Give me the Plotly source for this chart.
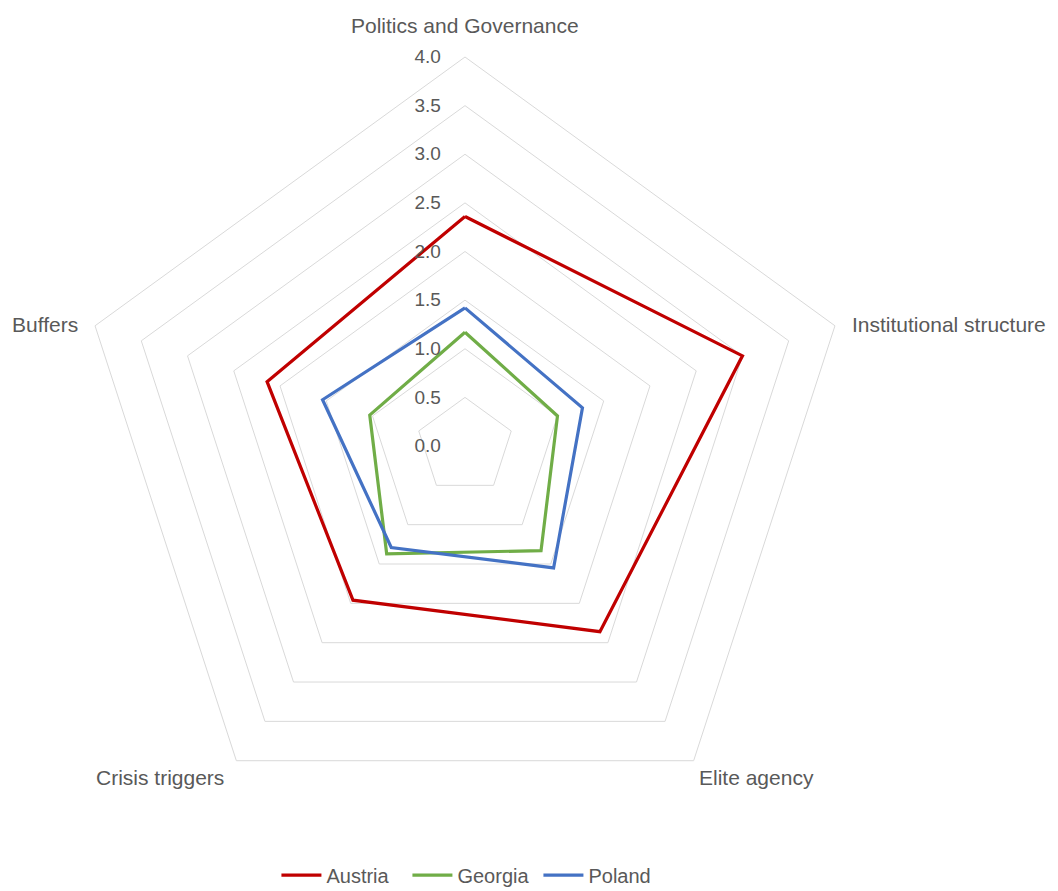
import plotly.graph_objects as go

categories = ["Politics and Governance", "Institutional structure", "Elite agency", "Crisis triggers", "Buffers"]
austria = [2.36, 3.0, 2.36, 1.96, 2.14]
georgia = [1.17, 1.0, 1.33, 1.37, 1.03]
poland = [1.42, 1.27, 1.55, 1.29, 1.54]
series = [("Austria", austria, "#C00000"), ("Georgia", georgia, "#70AD47"), ("Poland", poland, "#4472C4")]

W, H = 1058, 891
cx, cy, R = 465, 446, 389

fig = go.Figure()
for name, vals, col in series:
    fig.add_trace(go.Scatterpolar(
        r=vals + vals[:1], theta=categories + categories[:1], name=name, mode="lines",
        line=dict(color=col, width=3.2),
    ))

font = "Liberation Sans, Arial, sans-serif"
grey = "#595959"

# category labels placed as annotations (paper pixel positions)
label_pos = [
    (465, 26, "center"),
    (850, 324, "left"),
    (697, 777, "left"),
    (226, 777, "right"),
    (80, 324, "right"),
]
for cat, (px, py, anc) in zip(categories, label_pos):
    fig.add_annotation(x=px / W, y=1 - py / H, xref="paper", yref="paper", text=cat,
                       showarrow=False, xanchor=anc, yanchor="middle",
                       font=dict(family=font, size=21, color=grey))

fig.update_layout(
    width=W, height=H, margin=dict(l=0, r=0, t=0, b=0, autoexpand=False),
    paper_bgcolor="white", plot_bgcolor="white",
    font=dict(family=font, size=17, color=grey),
    polar=dict(
        domain=dict(x=[(cx - R) / W, (cx + R) / W], y=[(H - cy - R) / H, (H - cy + R) / H]),
        gridshape="linear", bgcolor="white",
        radialaxis=dict(range=[0, 4], dtick=0.5, tickformat=".1f", angle=90, tickangle=90,
                        side="counterclockwise",
                        showline=False, ticks="outside", ticklen=17, tickcolor="rgba(0,0,0,0)",
                        gridcolor="#d9d9d9", gridwidth=1,
                        tickfont=dict(size=19, color=grey)),
        angularaxis=dict(direction="clockwise", rotation=90, showgrid=False, showline=True,
                         linecolor="#d9d9d9", linewidth=1, ticks="", showticklabels=False),
    ),
    legend=dict(orientation="h", x=0.447, xanchor="center", y=-0.004, yanchor="bottom",
                font=dict(size=20, color=grey), itemwidth=40, entrywidth=76),
)
fig.write_html("out.html")
